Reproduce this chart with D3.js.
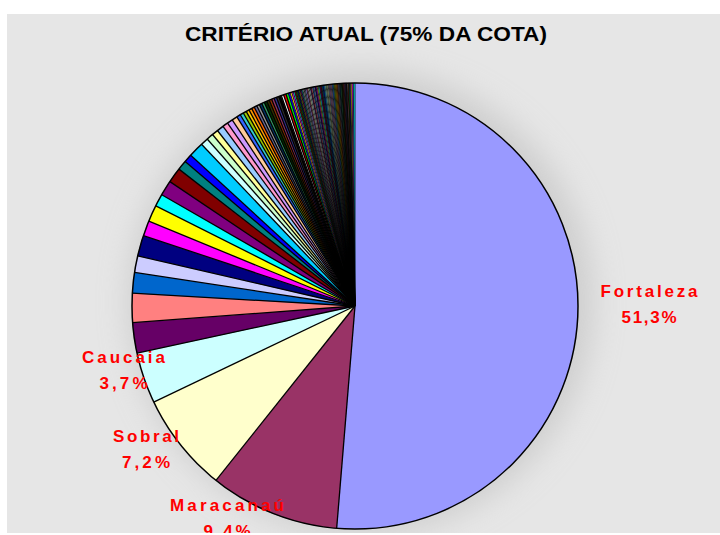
<!DOCTYPE html>
<html>
<head>
<meta charset="utf-8">
<script src="https://cdn.jsdelivr.net/npm/d3@7"></script>
<style>
  body { margin: 0; background: #fff; }
  svg { display: block; }
</style>
</head>
<body>
<div id="chart"></div>
<script>
// named municipalities (the labelled slices) and their share of the quota, %
const municipios = ['Fortaleza', 'Maracanaú', 'Sobral', 'Caucaia']
const valoresPrincipais = [51.3, 9.4, 7.2, 3.7]

// remaining municipalities, in the order they are drawn (clockwise), %
const valoresMedios = [2.2, 2.1, 1.5, 1.2, 1.5, 1.1, 1.2, 0.9, 1.1, 1.1, 0.7, 0.6, 1.1,
  0.55, 0.5, 0.45, 0.5, 0.4, 0.4, 0.4]
const valoresPequenos = [0.28, 0.25, 0.24, 0.22, 0.22, 0.21, 0.2, 0.2, 0.2, 0.19,
  0.2, 0.19, 0.18, 0.19, 0.18, 0.18, 0.19, 0.17, 0.18, 0.17]
const valoresDemais = [
  0.14, 0.12, 0.11, 0.10, 0.11, 0.10, 0.10, 0.10, 0.09, 0.10,
  0.09, 0.09, 0.10, 0.09, 0.09, 0.09, 0.08, 0.09, 0.09, 0.08,
  0.08, 0.08, 0.08, 0.09, 0.08, 0.08, 0.08, 0.07, 0.08, 0.08,
  0.07, 0.08, 0.07, 0.07, 0.07, 0.07, 0.08, 0.07, 0.07, 0.07,
  0.07, 0.06, 0.07, 0.06, 0.06, 0.07, 0.06, 0.06, 0.06, 0.06,
  0.06, 0.06, 0.05, 0.06, 0.05, 0.06, 0.08, 0.09, 0.10, 0.12
]

const titulo = 'CRITÉRIO ATUAL (75% DA COTA)'

// old Excel chart palette, used in this order for the slices
const paleta = [
  '#9999FF', '#993366', '#FFFFCC', '#CCFFFF', '#660066', '#FF8080', '#0066CC', '#CCCCFF',
  '#000080', '#FF00FF', '#FFFF00', '#00FFFF', '#800080', '#800000', '#008080', '#0000FF',
  '#00CCFF', '#CCFFFF', '#CCFFCC', '#FFFF99', '#99CCFF', '#FF99CC', '#CC99FF', '#FFCC99',
  '#3366FF', '#33CCCC', '#99CC00', '#FFCC00', '#FF9900', '#FF6600', '#666699', '#969696',
  '#003366', '#339966', '#003300', '#333300', '#993300', '#993366', '#333399', '#333333',
  '#000000', '#FFFFFF', '#FF0000', '#00FF00', '#0000FF', '#FFFF00', '#FF00FF', '#00FFFF',
  '#800000', '#008000', '#000080', '#808000', '#800080', '#008080', '#C0C0C0', '#808080'
]

// where each label sits (centre x, first baseline) and its stretched widths
const rotulos = {
  'Fortaleza': { x: 649, y: 297, w1: 97, w2: 55 },
  'Maracanaú': { x: 227, y: 511, w1: 114, w2: 47 },
  'Sobral': { x: 146, y: 442, w1: 66, w2: 48 },
  'Caucaia': { x: 123.5, y: 363, w1: 83, w2: 48 }
}

const W = 720
const H = 535
const area = { x: 7, y: 14, w: 713, h: 519 }
const cx = 355
const cy = 306
const raio = 223

const valores = valoresPrincipais.concat(valoresMedios, valoresPequenos, valoresDemais)
const dados = valores.map((v, i) => ({ nome: municipios[i] || null, valor: v, i: i }))

const svg = d3.select('#chart').append('svg')
  .attr('width', W).attr('height', H)

const defs = svg.append('defs')
defs.append('clipPath').attr('id', 'clipArea')
  .append('rect')
  .attr('x', area.x).attr('y', area.y).attr('width', area.w).attr('height', area.h)

const sombra = defs.append('filter').attr('id', 'blur')
  .attr('x', '-50%').attr('y', '-50%').attr('width', '200%').attr('height', '200%')
sombra.append('feGaussianBlur').attr('stdDeviation', 16)

const g = svg.append('g').attr('clip-path', 'url(#clipArea)')

// chart area background
g.append('rect')
  .attr('x', area.x).attr('y', area.y).attr('width', area.w).attr('height', area.h)
  .attr('fill', '#e6e6e6')

// soft halo around the pie
g.append('circle')
  .attr('cx', cx + 6).attr('cy', cy - 4).attr('r', raio + 8)
  .attr('fill', '#b8b8b8').attr('opacity', 0.55)
  .attr('filter', 'url(#blur)')

// title
g.append('text')
  .attr('x', 366).attr('y', 41)
  .attr('text-anchor', 'middle')
  .attr('font-family', 'Arial, "Liberation Sans", sans-serif')
  .attr('font-weight', 'bold')
  .attr('font-size', 21)
  .attr('textLength', 362)
  .attr('lengthAdjust', 'spacingAndGlyphs')
  .attr('fill', '#000')
  .text(titulo)

const pie = d3.pie().sort(null).value(d => d.valor)
const arcos = pie(dados)
const arc = d3.arc().innerRadius(0).outerRadius(raio)

const pieG = g.append('g').attr('transform', 'translate(' + cx + ',' + cy + ')')

// slice fills first
pieG.selectAll('path.fatia').data(arcos).enter().append('path')
  .attr('class', 'fatia')
  .attr('d', arc)
  .attr('fill', d => paleta[d.data.i % paleta.length])
  .attr('stroke', d => paleta[d.data.i % paleta.length])
  .attr('stroke-width', 0.3)

// then the black borders between slices on top, so they pile up at the centre
pieG.selectAll('line.borda').data(arcos).enter().append('line')
  .attr('class', 'borda')
  .attr('x1', 0).attr('y1', 0)
  .attr('x2', d => d3.pointRadial(d.startAngle, raio)[0])
  .attr('y2', d => d3.pointRadial(d.startAngle, raio)[1])
  .attr('stroke', '#000')
  .attr('stroke-width', (d, i) => {
    const vizinho = arcos[(i - 1 + arcos.length) % arcos.length].data.valor
    return Math.min(d.data.valor, vizinho) >= 0.15 ? 1.3 : 0.8
  })

// outline of the whole pie
pieG.append('circle').attr('r', raio)
  .attr('fill', 'none').attr('stroke', '#000').attr('stroke-width', 1.5)

// data labels
const fmt = v => d3.format('.1f')(v).replace('.', ',') + '%'
const lab = g.selectAll('.rotulo').data(dados.filter(d => d.nome)).enter()
  .append('g').attr('class', 'rotulo')
  .attr('font-family', 'Arial, "Liberation Sans", sans-serif')
  .attr('font-weight', 'bold')
  .attr('font-size', 17)
  .attr('fill', '#FF0000')
  .attr('text-anchor', 'middle')

lab.append('text')
  .attr('x', d => rotulos[d.nome].x)
  .attr('y', d => rotulos[d.nome].y)
  .attr('textLength', d => rotulos[d.nome].w1)
  .attr('lengthAdjust', 'spacing')
  .text(d => d.nome)

lab.append('text')
  .attr('x', d => rotulos[d.nome].x)
  .attr('y', d => rotulos[d.nome].y + 26)
  .attr('textLength', d => rotulos[d.nome].w2)
  .attr('lengthAdjust', 'spacing')
  .text(d => fmt(d.valor))
</script>
</body>
</html>
